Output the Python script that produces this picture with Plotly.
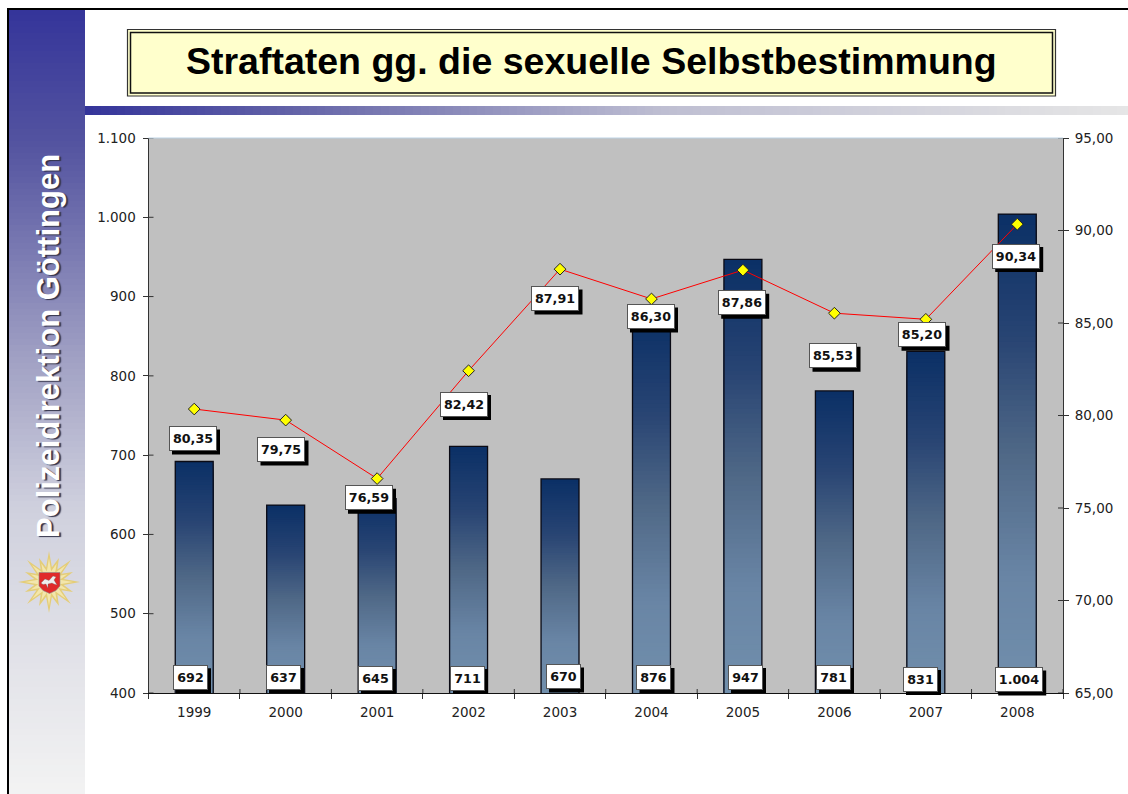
import math
import plotly.graph_objects as go

W, H = 1128, 794
TITLE = "Straftaten gg. die sexuelle Selbstbestimmung"
SIDEBAR = "Polizeidirektion Göttingen"
years = ["1999", "2000", "2001", "2002", "2003", "2004", "2005", "2006", "2007", "2008"]
cases = [692, 637, 645, 711, 670, 876, 947, 781, 831, 1004]
rates = [80.35, 79.75, 76.59, 82.42, 87.91, 86.30, 87.86, 85.53, 85.20, 90.34]

# label box centres, in page pixels
rate_label_px = [(192.5, 438.5), (281, 449.5), (368.5, 497.7), (463.5, 404), (555, 298.5),
                 (650.5, 316.5), (741.7, 302.7), (833, 355.7), (922, 334.7), (1015.7, 256)]
case_label_px = [(190, 677.3), (283, 677), (375, 678), (467, 678), (563, 676.5),
                 (653.5, 677), (745, 677), (833, 677), (920, 679), (1018.7, 679.5)]

PLOT_L, PLOT_R, PLOT_T, PLOT_B = 148.5, 1063, 138, 693
FONT = "Liberation Sans"
FONT2 = "DejaVu Sans"


def fx(x):
    return x / W


def fy(y):
    return 1 - y / H


def lerp_stops(stops, t):
    for (t0, c0), (t1, c1) in zip(stops, stops[1:]):
        if t <= t1:
            u = (t - t0) / (t1 - t0)
            return "rgb(%d,%d,%d)" % tuple(round(a + (b - a) * u) for a, b in zip(c0, c1))
    return "rgb(%d,%d,%d)" % stops[-1][1]


def rect(x0, y0, x1, y1, fill="rgba(0,0,0,0)", line=None, lw=0, layer="below"):
    return dict(type="rect", xref="paper", yref="paper", x0=fx(x0), x1=fx(x1), y0=fy(y0), y1=fy(y1),
                fillcolor=fill, line=dict(color=line or "rgba(0,0,0,0)", width=lw), layer=layer)


def path(points, fill, line=None, lw=0):
    d = "M " + " L ".join(f"{fx(x):.5f},{fy(y):.5f}" for x, y in points) + " Z"
    return dict(type="path", xref="paper", yref="paper", path=d, fillcolor=fill,
                line=dict(color=line or "rgba(0,0,0,0)", width=lw), layer="above")


shapes = []

# sidebar gradient (each band runs on under the next, so no seams)
side_stops = [(0, (53, 53, 154)), (0.17, (84, 84, 160)), (0.44, (160, 160, 196)),
              (0.63, (207, 208, 221)), (1, (243, 243, 243))]
step = 6
for y in range(9, H, step):
    shapes.append(rect(9, y, 85, H, fill=lerp_stops(side_stops, (y - 9) / (H - 9))))

# horizontal strip gradient
strip_stops = [(0, (53, 53, 154)), (0.2, (100, 100, 168)), (0.55, (190, 190, 210)), (1, (230, 230, 230))]
step = 8
for x in range(85, W, step):
    shapes.append(rect(x, 106, W, 115, fill=lerp_stops(strip_stops, (x - 85) / (W - 85))))

# outer frame
shapes.append(rect(7, 8, 9, H, fill="black"))
shapes.append(rect(7, 8, W, 10, fill="black"))

# title frame
shapes.append(rect(127.5, 29.5, 1055.5, 96, fill="#ffffcc", line="#333333", lw=1.2))
shapes.append(rect(130.5, 32.5, 1052.5, 93, line="#111111", lw=1.5))

# emblem
cx, cy = 49, 582
n = 16
for r_long, r_short, r_in, col in ((31, 26, 15, "#e4cd78"), (24, 20, 11, "#f3e6ac")):
    star = []
    for i in range(n):
        a = 2 * math.pi * i / n - math.pi / 2
        r = r_long if i % 2 == 0 else r_short
        star.append((cx + r * math.cos(a), cy + r * math.sin(a)))
        a2 = a + math.pi / n
        star.append((cx + r_in * math.cos(a2), cy + r_in * math.sin(a2)))
    shapes.append(path(star, col))
shapes.append(path([(39, 572.5), (60, 572.5), (60, 586), (56, 590.5), (49.5, 593.5), (43, 590.5), (39, 586)],
                   "#e02a2a", "#8a8a8a", 0.6))
shapes.append(path([(41, 583), (45, 579), (49, 580.5), (53, 576), (56, 577), (54, 580), (57, 585),
                    (54, 584), (52, 583), (48, 584), (48, 588), (46, 584), (43, 584.5)],
                   "#eeeeee", "#666666", 0.3))

# inner half of the axis ticks
AX = "#333333"
for v in range(400, 1101, 100):
    shapes.append(dict(type="line", xref="x", yref="y", xsizemode="pixel", xanchor=-0.5, x0=0, x1=5,
                       y0=v, y1=v, line=dict(color=AX, width=1), layer="above"))
for v in range(65, 96, 5):
    shapes.append(dict(type="line", xref="x", yref="y2", xsizemode="pixel", xanchor=9.5, x0=-5, x1=0,
                       y0=v, y1=v, line=dict(color=AX, width=1), layer="above"))
for i in range(0, 11):
    shapes.append(dict(type="line", xref="x", yref="paper", x0=i - 0.5, x1=i - 0.5,
                       y0=fy(PLOT_B), y1=fy(PLOT_B - 4), line=dict(color=AX, width=1), layer="above"))
# pale upper edge of the plot area
shapes.append(dict(type="line", xref="paper", yref="paper", x0=fx(PLOT_L), x1=fx(PLOT_R), y0=fy(PLOT_T), y1=fy(PLOT_T),
                   line=dict(color="#bcd2e4", width=1), layer="above"))

fig = go.Figure()

# gradient bars: stacked-down overlays, darkest and tallest first
grad_stops = [(0, (11, 48, 102)), (0.25, (40, 68, 115)), (0.5, (80, 105, 135)), (0.75, (105, 133, 165)),
              (1, (113, 143, 172))]
N = 90
for k in range(N):
    t = k / N
    fig.add_trace(go.Bar(x=years, y=[400 + (v - 400) * (1 - t) for v in cases],
                         marker=dict(color=lerp_stops(grad_stops, t), line=dict(width=0)),
                         width=0.415, hoverinfo="skip", showlegend=False))
fig.add_trace(go.Bar(x=years, y=cases, name="Fälle",
                     marker=dict(color="rgba(0,0,0,0)", line=dict(color="#0a0a14", width=1.3)),
                     width=0.415, showlegend=False))
fig.add_trace(go.Scatter(x=years, y=rates, yaxis="y2", mode="lines+markers", name="Quote",
                         line=dict(color="#ff0000", width=1),
                         marker=dict(symbol="diamond", size=9, color="#ffff00", line=dict(color="#222222", width=1)),
                         showlegend=False))


def box_label(text, px, w):
    xp, yp = px
    # drop shadow is a plain rectangle, the label itself a single annotation
    shapes.append(rect(xp - w / 2 - 2 + 3.5, yp - 12.5 + 3.5, xp + w / 2 + 2 + 3.5, yp + 12.5 + 3.5,
                       fill="black", layer="above"))
    return dict(x=fx(xp), y=fy(yp), text=f"<b>{text}</b>", bgcolor="white", bordercolor="#555555", borderwidth=1,
                font=dict(family=FONT2, size=12.7, color="#111111"), xref="paper", yref="paper",
                xanchor="center", yanchor="middle", showarrow=False,
                width=w, height=21, align="center", valign="middle", borderpad=1)


def fmt_case(v):
    return f"{v:,}".replace(",", ".")


annotations = []
for v, p in zip(rates, rate_label_px):
    annotations.append(box_label(f"{v:.2f}".replace(".", ","), p, 44))
for v, p in zip(cases, case_label_px):
    annotations.append(box_label(fmt_case(v), p, 44 if v >= 1000 else 31))

annotations.append(dict(x=fx(591), y=fy(61), xref="paper", yref="paper", text=f"<b>{TITLE}</b>", showarrow=False,
                        xanchor="center", yanchor="middle", font=dict(family=FONT, size=37.5, color="black")))
annotations.append(dict(x=fx(48.5), y=fy(346.5), xref="paper", yref="paper", text=f"<b>{SIDEBAR}</b>",
                        showarrow=False, textangle=-90, xanchor="center", yanchor="middle",
                        font=dict(family=FONT, size=31, color="white", shadow="-1px 1.5px 1px #33334a")))

tick_font = dict(family=FONT2, size=13.5, color="#222222")
fig.update_layout(
    width=W, height=H, autosize=False,
    margin=dict(l=0, r=0, t=0, b=0, autoexpand=False),
    paper_bgcolor="white", plot_bgcolor="#c0c0c0",
    barmode="overlay", bargap=0.58,
    separators=",.",
    showlegend=False,
    xaxis=dict(domain=[fx(PLOT_L), fx(PLOT_R)], type="category", tickson="boundaries", ticks="outside", ticklen=5,
               tickcolor=AX, showline=True, linecolor="#111111", linewidth=1, tickfont=tick_font, automargin=False,
               ticklabelstandoff=7, showgrid=False, zeroline=False, range=[-0.5, 9.5], anchor="y"),
    yaxis=dict(domain=[fy(PLOT_B), fy(PLOT_T)], range=[400, 1100], tickvals=list(range(400, 1101, 100)),
               tickformat=",d", ticks="outside", ticklen=5, tickcolor=AX, showline=True, linecolor=AX, linewidth=1,
               ticklabelstandoff=4, tickfont=tick_font, showgrid=False, zeroline=False, automargin=False),
    yaxis2=dict(domain=[fy(PLOT_B), fy(PLOT_T)], range=[65, 95], tickvals=list(range(65, 96, 5)),
                tickformat=".2f", overlaying="y", side="right", anchor="x", ticks="outside", ticklen=5, tickcolor=AX,
                ticklabelstandoff=3, showline=True, linecolor=AX, linewidth=1, tickfont=tick_font, showgrid=False,
                zeroline=False, automargin=False),
    shapes=shapes,
    annotations=annotations,
)

post = """
document.documentElement.style.margin='0';
document.body.style.margin='0';
document.body.style.overflow='hidden';
"""
fig.write_html("out.html", config=dict(displayModeBar=False), post_script=post)
